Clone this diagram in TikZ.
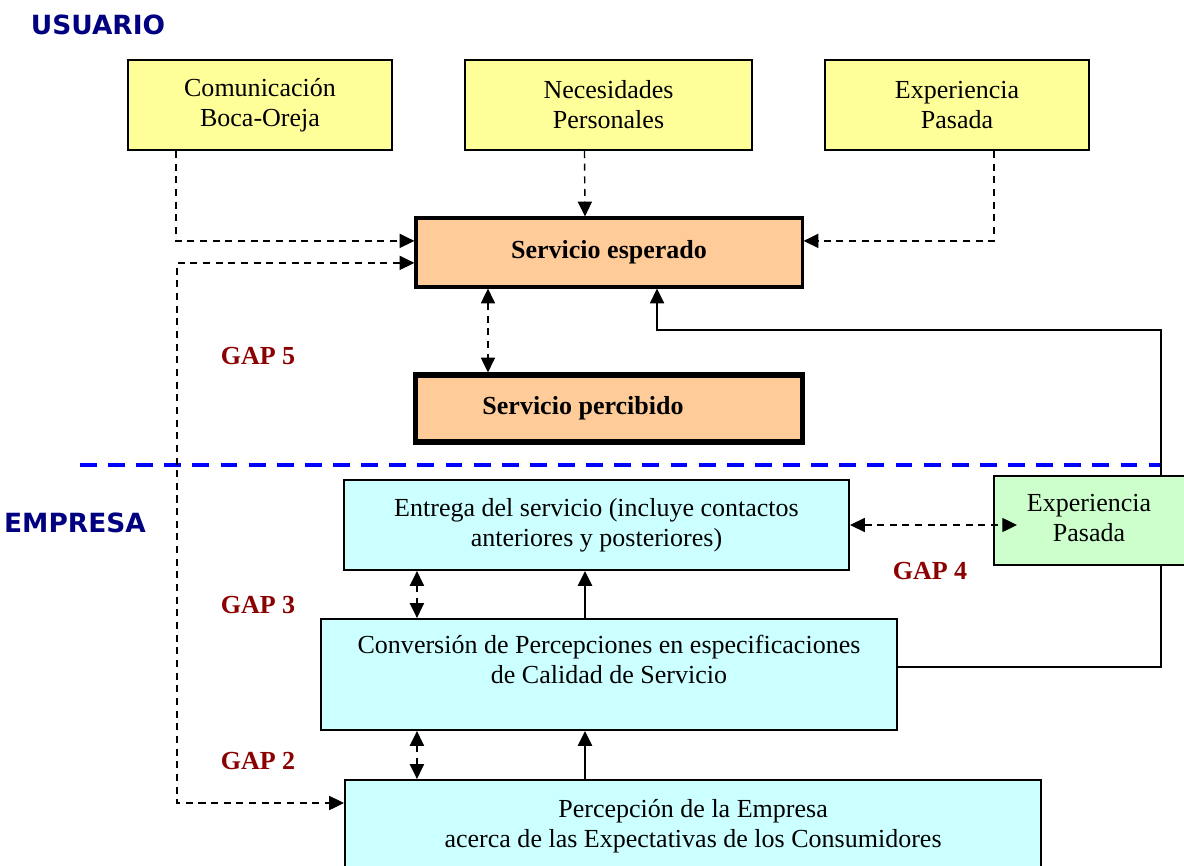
\documentclass[tikz,border=0pt]{standalone}
\usepackage{fontspec}
\setmainfont{Liberation Serif}
\newfontfamily\headfont{DejaVu Sans}
\usetikzlibrary{positioning,arrows.meta}

\definecolor{userfill}{HTML}{FFFF99}
\definecolor{servfill}{HTML}{FFCC99}
\definecolor{firmfill}{HTML}{CCFFFF}
\definecolor{pastfill}{HTML}{CCFFCC}
\definecolor{gapred}{HTML}{8B0000}
\definecolor{headblue}{HTML}{000080}

\tikzset{
  every node/.style={font=\fontsize{18.5}{21.3}\selectfont, align=center},
  box/.style={draw, line width=1.4pt, inner sep=0pt},
  userbox/.style={box, fill=userfill, minimum height=2.25cm},
  servbox/.style={box, fill=servfill, font=\bfseries\fontsize{18.5}{21.3}\selectfont,
    minimum width=9.65cm},
  firmbox/.style={box, fill=firmfill},
  head/.style={font=\headfont\bfseries\fontsize{18.8}{21}\selectfont, text=headblue},
  gaplabel/.style={font=\bfseries\fontsize{18.5}{21}\selectfont, text=gapred},
  tip/.style={-{Triangle[length=10.5pt,width=10pt]}},
  twotips/.style={{Triangle[length=10.5pt,width=10pt]}-{Triangle[length=10.5pt,width=10pt]}},
  dashline/.style={line width=1pt, dash pattern=on 5pt off 4pt},
  solidline/.style={line width=1.2pt}
}

\begin{document}
\begin{tikzpicture}[x=0.025cm, y=-0.025cm]
    \useasboundingbox (0,0) rectangle (1184,866);

    % usuario side
    \node[head] (usuario) at (98,25) {USUARIO};
    \node[userbox, minimum width=6.6cm] (boca) at (260,105) {Comunicación\\Boca-Oreja};
    \node[userbox, minimum width=7.175cm] (necesidades) at (608.5,105) {Necesidades\\Personales};
    \node[userbox, minimum width=6.6cm] (pasadatop) at (957,105) {Experiencia\\Pasada};
    \node[servbox, line width=2.2pt, minimum height=1.725cm] (esperado) at (609,252.5) {Servicio esperado};
    \node[servbox, line width=3.6pt, minimum height=1.675cm] (percibido) at (609,408.5) {Servicio percibido\kern1.3cm};
    \node[gaplabel] (gap5) at (258,356) {GAP 5};

    % separation line
    \draw[blue, line width=2.8pt, dash pattern=on 12pt off 8pt] (80,465) -- (1160,465);

    % empresa side
    \node[head] (empresa) at (75,523) {EMPRESA};
    \node[firmbox, minimum width=12.625cm, minimum height=2.25cm] (entrega) at (596.5,525)
        {Entrega del servicio (incluye contactos\\anteriores y posteriores)};
    \node[firmbox, minimum width=14.4cm, minimum height=2.775cm] (conversion) at (609,674.5)
        {Conversión de Percepciones en especificaciones\\de Calidad de Servicio\\ \mbox{}};
    \node[firmbox, minimum width=17.4cm, minimum height=2.525cm, anchor=north west] (percepcion) at (344,779)
        {Percepción de la Empresa\\acerca de las Expectativas de los Consumidores\\[-11pt]\mbox{}};
    \node[gaplabel] (gap4) at (930,571) {GAP 4};
    \node[gaplabel] (gap3) at (258,605) {GAP 3};
    \node[gaplabel] (gap2) at (258,761) {GAP 2};

    % feedback line, behind the green box
    \draw[solidline, tip] ([yshift=0.19cm]conversion.east) -- ++(263,0) -- ++(0,-337)
        -| ([xshift=1.2cm]esperado.south);
    \node[box, fill=pastfill, minimum width=5.05cm, minimum height=2.225cm, anchor=west] (pasada) at (993,520.5) {};
    \node (pasadatext) at (1089,518) {Experiencia\\Pasada};

    % user side connectors
    \draw[dashline, tip] (boca.south west) ++(49,0) |- ([yshift=0.29cm]esperado.west);
    \draw[dashline, tip] ([xshift=-0.6cm]necesidades.south) -- ([xshift=-0.6cm]esperado.north);
    \draw[dashline, tip] (pasadatop.south east) ++(-96,0) |- ([yshift=0.29cm]esperado.east);
    \draw[dashline, twotips] ([xshift=-3.025cm]esperado.south) -- ([xshift=-3.025cm]percibido.north);
    \draw[dashline, twotips] ([yshift=-0.26cm]esperado.west)
        -| ([xshift=-4.175cm,yshift=-0.6cm]percepcion.north west) -- ([yshift=-0.6cm]percepcion.north west);

    % empresa side connectors
    \draw[dashline, twotips] (entrega.east) -- ([xshift=0.6cm]entrega.east -| pasada.west);
    \draw[dashline, twotips] ([xshift=-4.8cm]conversion.north |- entrega.south) -- ([xshift=-4.8cm]conversion.north);
    \draw[dashline, twotips] ([xshift=-4.8cm]conversion.south) -- ([xshift=-4.8cm]conversion.south |- percepcion.north);
    \draw[solidline, tip] ([xshift=-0.6cm]conversion.north) -- ([xshift=-0.6cm]conversion.north |- entrega.south);
    \draw[solidline, tip] ([xshift=-0.6cm]conversion.south |- percepcion.north) -- ([xshift=-0.6cm]conversion.south);
\end{tikzpicture}
\end{document}
